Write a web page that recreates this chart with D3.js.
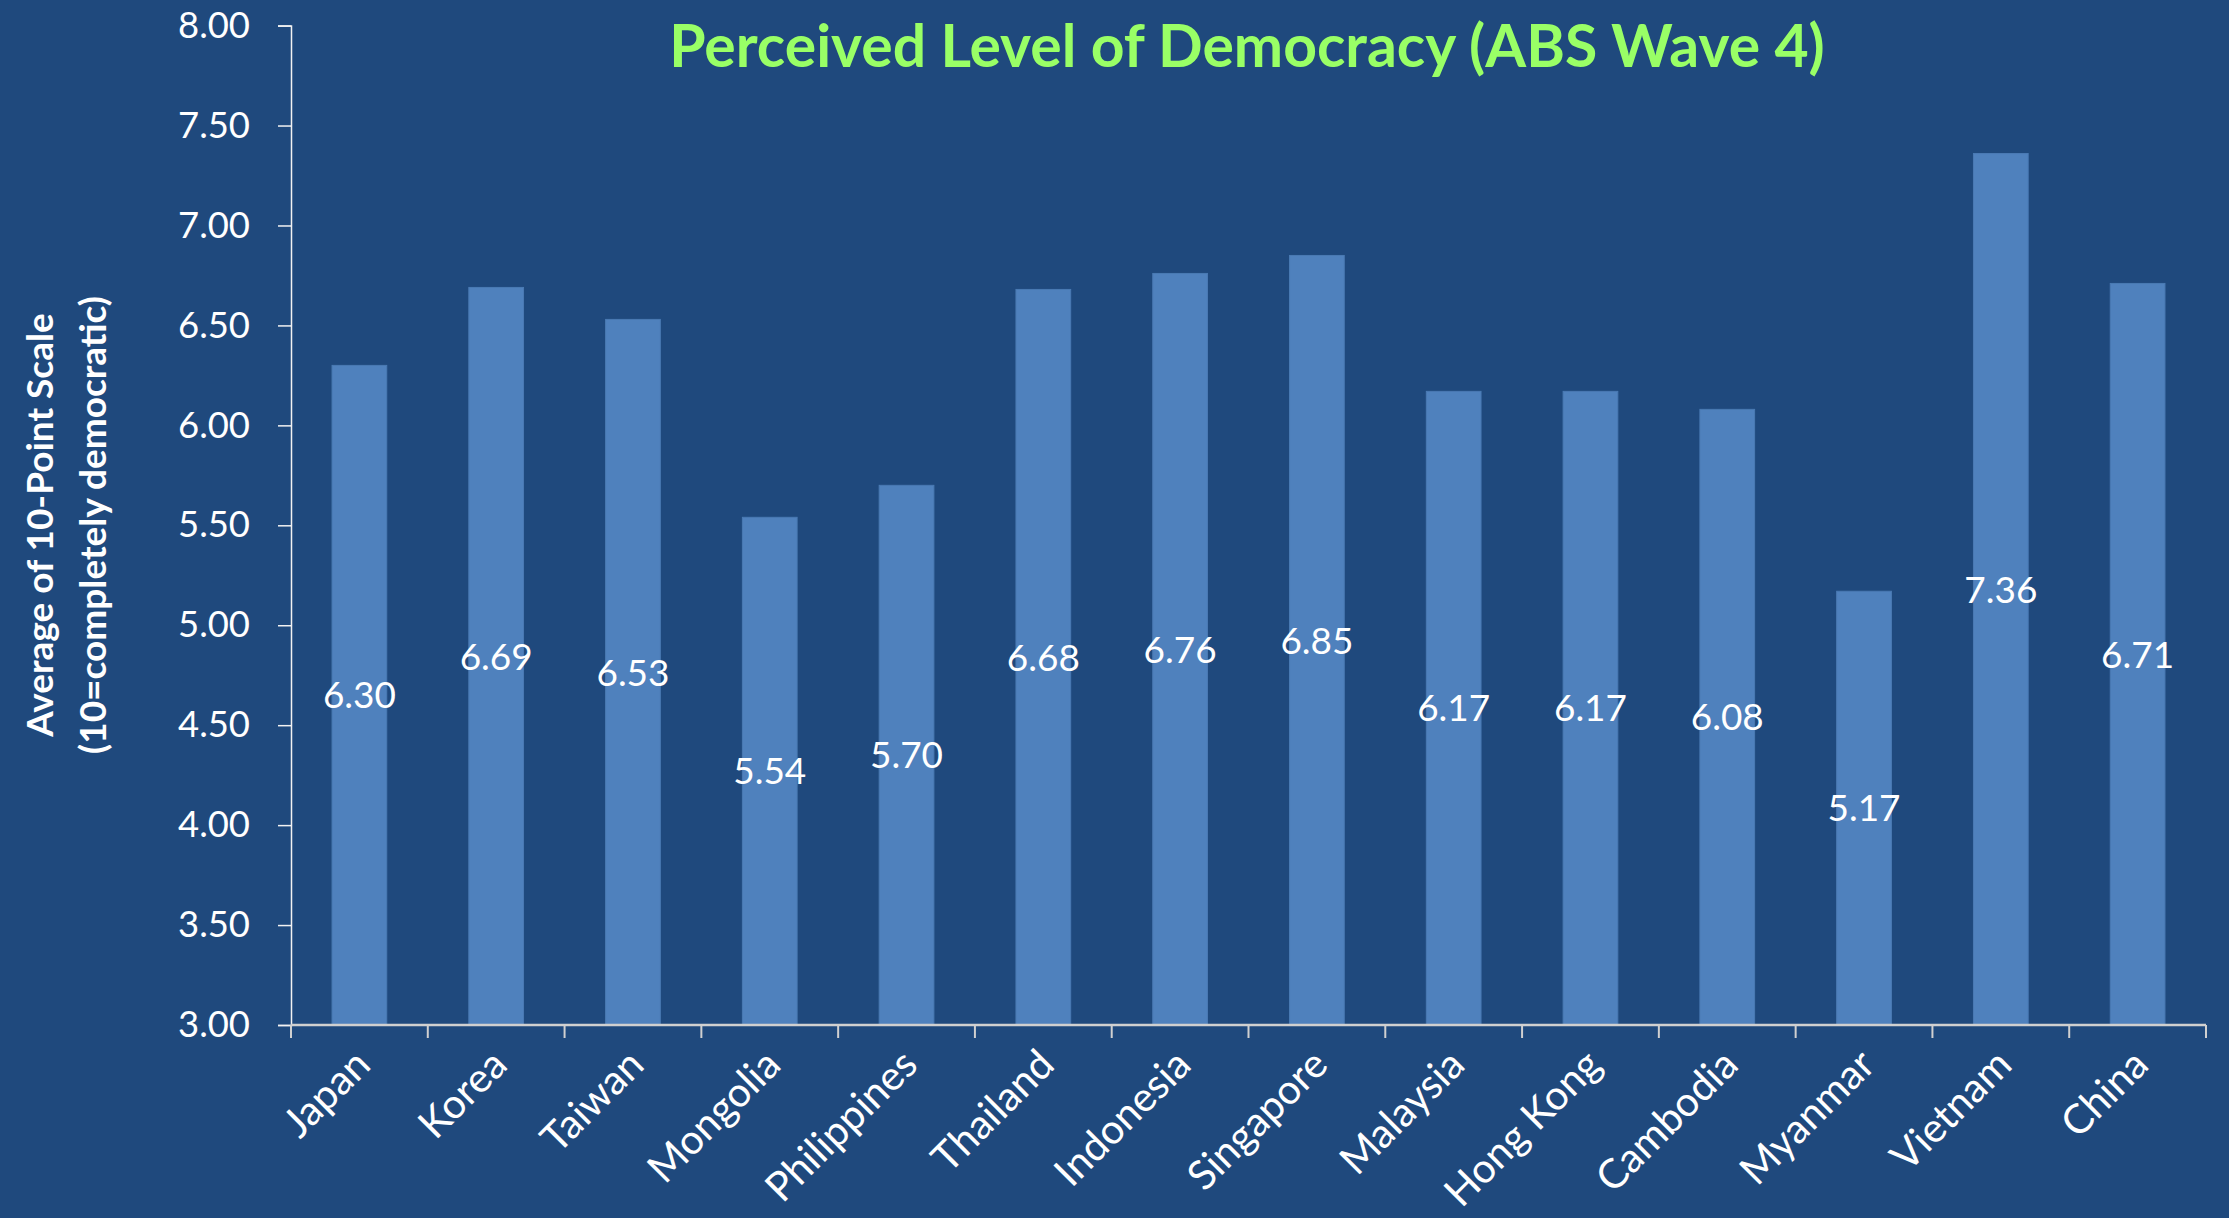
<!DOCTYPE html>
<html><head><meta charset="utf-8">
<script src="https://cdn.jsdelivr.net/npm/d3@7"></script>
<style>
html,body{margin:0;padding:0;background:#1F497D;}
svg{display:block;}
text{font-family:Lato, "Open Sans", sans-serif;}
</style></head>
<body>
<svg id="chart" width="2229" height="1218"></svg>
<script>
const categories = ["Japan","Korea","Taiwan","Mongolia","Philippines","Thailand","Indonesia","Singapore","Malaysia","Hong Kong","Cambodia","Myanmar","Vietnam","China"];
const values = [6.30,6.69,6.53,5.54,5.70,6.68,6.76,6.85,6.17,6.17,6.08,5.17,7.36,6.71];
const yTicks = [3.00,3.50,4.00,4.50,5.00,5.50,6.00,6.50,7.00,7.50,8.00];
const titleText = "Perceived Level of Democracy (ABS Wave 4)";
const yTitleLines = ["Average of 10-Point Scale","(10=completely democratic)"];

const W = 2229, H = 1218;
const m = {left: 291, right: 23, top: 25.6, bottom: 193};
const svg = d3.select("#chart");
svg.append("rect").attr("width", W).attr("height", H).attr("fill", "#1F497D");

const x = d3.scaleBand().domain(categories).range([m.left, W - m.right]).paddingInner(0.6).paddingOuter(0.3);
const y = d3.scaleLinear().domain([3, 8]).range([H - m.bottom, m.top]);

function fit(sel, target) {
  const n = sel.node();
  const fs = parseFloat(sel.attr("font-size"));
  const len = n.getComputedTextLength();
  sel.attr("font-size", fs * target / len);
}

// bars
svg.append("g").selectAll("rect").data(categories).join("rect")
  .attr("x", d => x(d)).attr("width", x.bandwidth())
  .attr("y", (d, i) => y(values[i]))
  .attr("height", (d, i) => y(3) - y(values[i]))
  .attr("fill", "#4F81BD").attr("stroke", "#4A7AB3").attr("stroke-width", 1);

// value labels
const vl = svg.append("g").selectAll("text").data(categories).join("text")
  .attr("x", d => x(d) + x.bandwidth() / 2)
  .attr("y", (d, i) => y((values[i] + 3) / 2))
  .attr("dy", "0.36em")
  .attr("text-anchor", "middle").attr("fill", "#fff").attr("font-size", 36)
  .text((d, i) => d3.format(".2f")(values[i]));
{
  const t = d3.select(vl.nodes()[0]); fit(t, 73);
  vl.attr("font-size", t.attr("font-size"));
}

// y axis
const yAxis = svg.append("g").attr("transform", `translate(${m.left},0)`)
  .call(d3.axisLeft(y).tickValues(yTicks).tickFormat(d3.format(".2f")).tickSize(13).tickPadding(28));
yAxis.select(".domain").attr("stroke", "#f2f2f2").attr("stroke-width", 1.5);
yAxis.selectAll(".tick line").attr("stroke", "#f2f2f2").attr("stroke-width", 1.5);
yAxis.selectAll(".tick text").attr("fill", "#fff").attr("font-size", 36).attr("font-family", "Lato, sans-serif");
{
  const t = yAxis.selectAll(".tick text").filter(d => d === 8);
  fit(t, 72);
  yAxis.selectAll(".tick text").attr("font-size", t.attr("font-size"));
}

// x axis
const base = y(3);
const xg = svg.append("g");
xg.append("line").attr("x1", m.left).attr("x2", W - m.right).attr("y1", base).attr("y2", base)
  .attr("stroke", "#d0d0d0").attr("stroke-width", 2.5);
const step = x.step();
const bounds = categories.map(d => x(d) - step * x.paddingInner() / 2);
bounds.push(x(categories[categories.length - 1]) + x.bandwidth() + step * x.paddingInner() / 2);
xg.selectAll("line.tk").data(bounds).join("line").attr("class", "tk")
  .attr("x1", d => d).attr("x2", d => d).attr("y1", base).attr("y2", base + 13)
  .attr("stroke", "#d0d0d0").attr("stroke-width", 2);

const xl = xg.selectAll("text").data(categories).join("text")
  .attr("transform", d => `translate(${x(d) + x.bandwidth() / 2 + 3},${base + 32}) rotate(-45)`)
  .attr("text-anchor", "end").attr("dy", "0.35em")
  .attr("fill", "#fff").attr("font-size", 34)
  .text(d => d);
{
  const t = d3.select(xl.nodes()[4]); fit(t, 194);
  xl.attr("font-size", t.attr("font-size"));
}

// title
const title = svg.append("text").attr("x", 1247).attr("y", 67).attr("text-anchor", "middle")
  .attr("fill", "#99FF66").attr("font-weight", "bold").attr("font-size", 58).text(titleText);
fit(title, 1156);

// y title
const yt = svg.append("g").attr("transform", "translate(0,525) rotate(-90)");
const yl1 = yt.append("text").attr("x", 0).attr("y", 40).attr("dy", "0.35em").attr("text-anchor", "middle")
  .attr("fill", "#fff").attr("font-weight", "bold").attr("font-size", 32).text(yTitleLines[0]);
const yl2 = yt.append("text").attr("x", 0).attr("y", 93).attr("dy", "0.35em").attr("text-anchor", "middle")
  .attr("fill", "#fff").attr("font-weight", "bold").attr("font-size", 32).text(yTitleLines[1]);
fit(yl2, 458);
yl1.attr("font-size", yl2.attr("font-size"));
</script>
</body></html>
